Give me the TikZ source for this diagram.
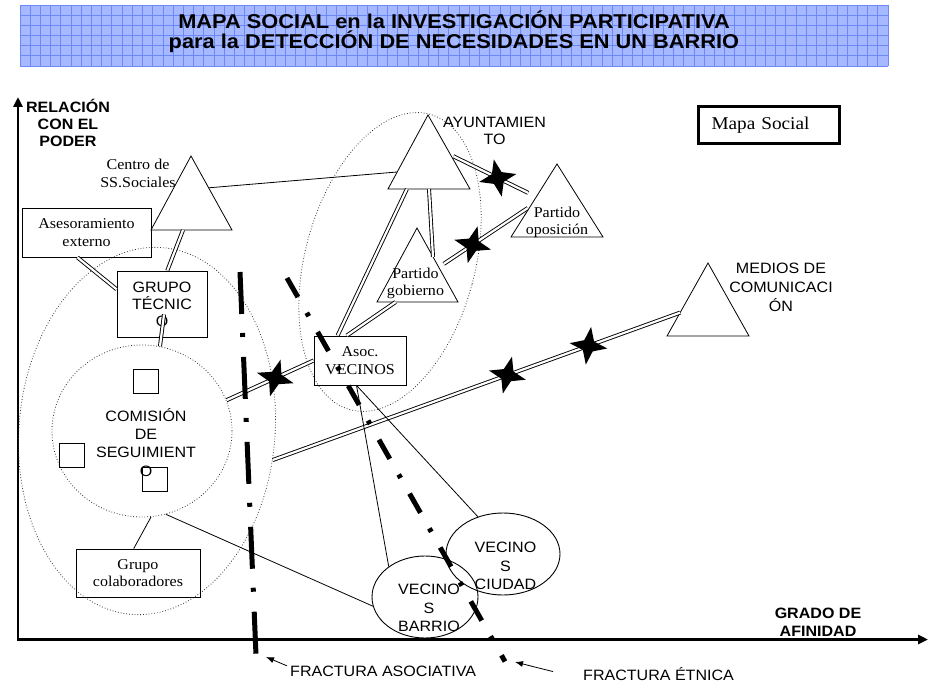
\documentclass[tikz,border=0pt]{standalone}
\usepackage{fontspec}
\setmainfont{Liberation Serif}[FakeStretch=1.07]
\newfontfamily\arial{Liberation Sans}[FakeStretch=1.07]
\newfontfamily\arialtit{Liberation Sans}[FakeStretch=1.09]
\usetikzlibrary{shapes.geometric,arrows.meta,calc}
\definecolor{azulfondo}{RGB}{166,184,255}
\definecolor{azulrejilla}{RGB}{108,136,246}

\begin{document}
\begin{tikzpicture}[x=1pt,y=-1pt,
    fino/.style={line width=0.8pt},
    doble/.style={double, double distance=2.2pt, line width=0.9pt},
    punteado/.style={draw, dotted, line width=0.8pt, black!80, ellipse, inner sep=0pt},
    caja/.style={draw, line width=0.8pt, inner sep=0pt, align=center, font=\fontsize{15}{17.5}\selectfont},
    romano/.style={inner sep=0pt, align=center, font=\fontsize{15}{#1}\selectfont},
    romano/.default=17.5,
    sans/.style={inner sep=0pt, align=center, font=\arial\fontsize{15}{#1}\selectfont},
    sans/.default=18,
    negrita/.style={inner sep=0pt, align=center, font=\arial\bfseries\fontsize{15}{#1}\selectfont},
    miembro/.style={draw, line width=0.8pt, minimum width=25, minimum height=24, inner sep=0pt},
    cruce/.style={star, star points=4, star point ratio=2.7, minimum size=38, fill=black, inner sep=0pt},
    fractura/.style={line width=5pt},
    flecha/.style={line width=0.8pt, -{Latex[length=8pt,width=6pt]}},
    eje/.style={line width=2.5pt, -{Triangle[length=10pt,width=9pt]}}]

    \useasboundingbox (0,0) rectangle (934,687);

    \fill[azulfondo] (20,5) rectangle (888,66);
    \foreach \i in {0,...,85} \draw[azulrejilla, line width=0.9pt] ({20+\i*10.212},5) -- ({20+\i*10.212},66);
    \foreach \j in {0,...,6} \draw[azulrejilla, line width=0.9pt] (20,{5+\j*10.167}) -- (888,{5+\j*10.167});
    \node[inner sep=0pt, align=center, font=\arialtit\bfseries\fontsize{20}{20}\selectfont] (titulo) at (454,32.2) {MAPA SOCIAL en la INVESTIGACIÓN PARTICIPATIVA\\para la DETECCIÓN DE NECESIDADES EN UN BARRIO};

    \draw[eje] (18,641) -- (18,97);
    \draw[eje] (17,639.5) -- (928,639.5);
    \node[negrita=17.3] (poder) at (68,123) {RELACIÓN\\CON EL\\PODER};
    \node[negrita=18] (afinidad) at (818,622.7) {GRADO DE\\AFINIDAD};

    \node[punteado, minimum width=256, minimum height=368, rotate=-5] (grupo) at (147,431) {};
    \node[punteado, minimum width=170, minimum height=306, rotate=-15] (instituciones) at (390,262) {};
    \node[punteado, minimum width=180, minimum height=172] (comision) at (142,431) {};
    \node[sans=18.2] (comisiontxt) at (146,442.4) {COMISIÓN\\DE\\SEGUIMIENT\\O};
    \node[miembro] (miembro1) at (145.5,381) {};
    \node[miembro] (miembro2) at (72,455) {};
    \node[miembro] (miembro3) at (154.5,479.5) {};

    \coordinate (centro-a) at (191,156);
    \coordinate (centro-i) at (151,230);
    \coordinate (centro-d) at (232,230);
    \coordinate (ayto-a) at (428,115);
    \coordinate (ayto-i) at (388,189);
    \coordinate (ayto-d) at (470,189);
    \coordinate (pgob-a) at (417,228);
    \coordinate (pgob-i) at (377,302);
    \coordinate (pgob-d) at (458,302);
    \coordinate (popos-a) at (557,164);
    \coordinate (popos-i) at (511,237);
    \coordinate (popos-d) at (603,237);
    \coordinate (medios-a) at (708,263);
    \coordinate (medios-i) at (667,336);
    \coordinate (medios-d) at (749,336);
    \draw[fino] (centro-a) -- (centro-i) -- (centro-d) -- cycle;
    \draw[fino] (ayto-a) -- (ayto-i) -- (ayto-d) -- cycle;
    \draw[fino] (pgob-a) -- (pgob-i) -- (pgob-d) -- cycle;
    \draw[fino] (popos-a) -- (popos-i) -- (popos-d) -- cycle;
    \draw[fino] (medios-a) -- (medios-i) -- (medios-d) -- cycle;
    \node[romano=18] (centrotxt) at (138,173) {Centro de\\SS.Sociales};
    \node[sans=17] (aytotxt) at (494.5,131.2) {AYUNTAMIEN\\TO};
    \node[romano=17] (pgobtxt) at (415.5,283) {Partido\\gobierno};
    \node[romano=17] (popostxt) at (557,222) {Partido\\oposición};
    \node[sans=19] (mediostxt) at (781,287.7) {MEDIOS DE\\COMUNICACI\\ÓN};

    \node[caja, minimum width=129, minimum height=49] (asesor) at (86.5,232.5) {Asesoramiento\\externo};
    \node[caja, font=\arial\fontsize{15}{17}\selectfont, minimum width=90, minimum height=66] (tecnico) at (162,304) {GRUPO\\TÉCNIC\\O};
    \node[caja, minimum width=124, minimum height=48] (colab) at (138,573) {Grupo\\colaboradores};
    \node[caja, minimum width=92, minimum height=49] (asoc) at (360,360.5) {Asoc.\\VECINOS};
    \node[draw, line width=3pt, minimum width=141, minimum height=37, text width=115, inner xsep=13, inner ysep=0pt, align=left, font=\fontsize{18}{20}\selectfont] (mapa) at (769,125) {Mapa Social};

    \node[draw, ellipse, line width=0.9pt, minimum width=106, minimum height=82, inner sep=0pt] (barrio) at (425,597) {};
    \node[sans=18.5] (barriotxt) at (429,608.2) {VECINO\\S\\BARRIO};
    \node[draw, ellipse, line width=0.9pt, minimum width=114, minimum height=82, inner sep=0pt] (ciudad) at (503,554) {};
    \node[sans=18.5] (ciudadtxt) at (505.5,566) {VECINO\\S\\CIUDAD};

    \draw[fino] ($(centro-a)!.43!(centro-d)$) -- ($(ayto-a)!.77!(ayto-i)$);
    \draw[doble] (asesor.250) -- (tecnico.162);
    \draw[doble] ($(centro-i)!.395!(centro-d)$) -- (tecnico.81);
    \draw[doble] ($(tecnico.south)+(2,-23)$) -- (comision.78);
    \draw[doble] (comision.20) -- node[cruce, pos=.56, rotate=-16] (cruce1) {} (asoc.west);
    \draw[doble] (grupo.-8) -- node[cruce, pos=.576, rotate=-14] (cruce2) {} node[cruce, pos=.775, rotate=-8] (cruce3) {} ($(medios-a)!.68!(medios-i)$);
    \draw[doble] ($(ayto-i)!.23!(ayto-d)$) -- (asoc.132);
    \draw[doble] ($(ayto-i)!.5!(ayto-d)$) -- ($(pgob-a)!.39!(pgob-d)$);
    \draw[doble] (asoc.118) -- ($(pgob-i)!.23!(pgob-d)$);
    \draw[doble, shorten <=6pt, shorten >=3pt] ($(pgob-a)!.53!(pgob-d)$) -- node[cruce, pos=.37, rotate=-15] (cruce4) {} ($(popos-a)!.58!(popos-i)$);
    \draw[doble, shorten <=3pt, shorten >=9pt] ($(ayto-a)!.54!(ayto-d)$) -- node[cruce, pos=.55, rotate=12] (cruce5) {} ($(popos-a)!.45!(popos-i)$);
    \draw[fino] (comision.276) -- (colab.100);
    \draw[fino] (comision.286) -- (barrio.190);
    \draw[fino] (asoc.262) -- (barrio.140);
    \draw[fino] (asoc.262) -- (ciudad.124);

    \coordinate (fa-ini) at (240,272);
    \coordinate (fa-fin) at (256,655);
    \coordinate (fe-ini) at (287,278);
    \coordinate (fe-fin) at (505,661.5);
    \draw[fractura, dash pattern=on 42pt off 19pt on 4pt off 20pt] (fa-ini) -- (fa-fin);
    \draw[fractura, dash pattern=on 22pt off 18pt on 4pt off 18pt] (fe-ini) -- (fe-fin);

    \node[sans, anchor=base west] (fasoc) at (290,676.5) {FRACTURA ASOCIATIVA};
    \node[sans, anchor=base west] (fetnica) at (583,680.5) {FRACTURA ÉTNICA};
    \coordinate (fa-punta) at (266,657);
    \coordinate (fe-punta) at (515,662);
    \draw[flecha] ([xshift=-3pt]fasoc.north west) -- (fa-punta);
    \draw[flecha] ([xshift=-30pt,yshift=2.5pt]fetnica.west) -- (fe-punta);
\end{tikzpicture}
\end{document}
